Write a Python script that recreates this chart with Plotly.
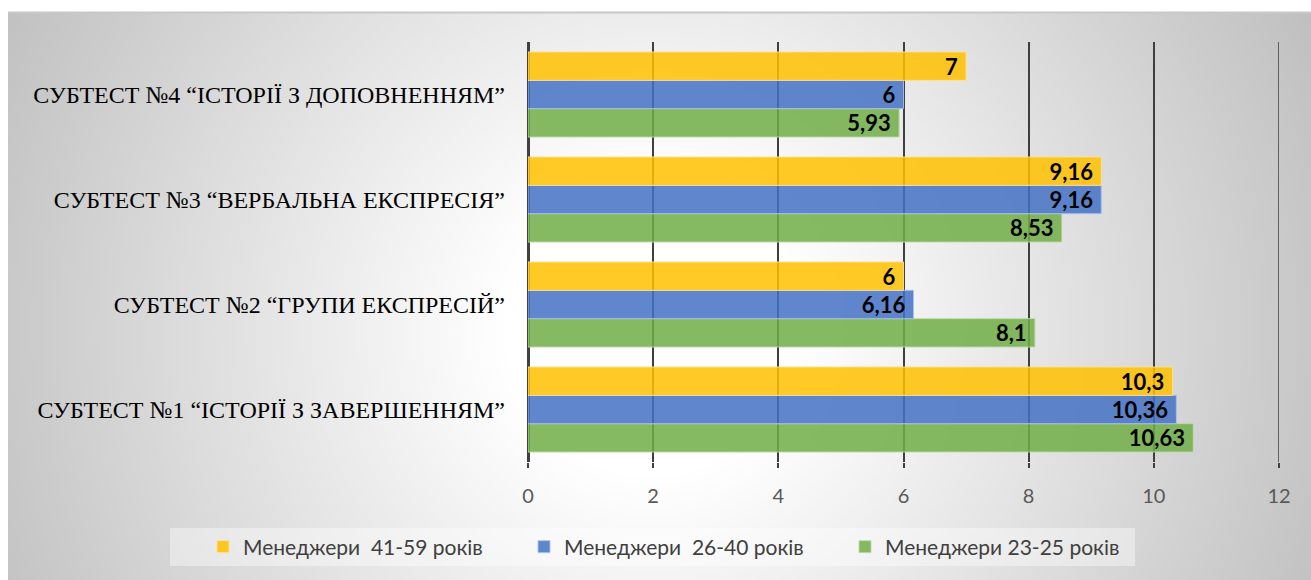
import base64, struct, zlib
import numpy as np
import plotly.graph_objects as go

categories = [
    "СУБТЕСТ №1 “ІСТОРІЇ З ЗАВЕРШЕННЯМ”",
    "СУБТЕСТ №2 “ГРУПИ ЕКСПРЕСІЙ”",
    "СУБТЕСТ №3 “ВЕРБАЛЬНА ЕКСПРЕСІЯ”",
    "СУБТЕСТ №4 “ІСТОРІЇ З ДОПОВНЕННЯМ”",
]
series_names = ["Менеджери 23-25 років", "Менеджери  26-40 років", "Менеджери  41-59 років"]
values_23_25 = [10.63, 8.1, 8.53, 5.93]
values_26_40 = [10.36, 6.16, 9.16, 6]
values_41_59 = [10.3, 6, 9.16, 7]
x_ticks = [0, 2, 4, 6, 8, 10, 12]

W, H = 1311, 580
ML, MR, MT, MB = 528, 32, 42, 118
PW, PH = W - ML - MR, H - MT - MB


def gradient_png():
    # radial gradient background (white centre, grey edges)
    x0, y0, x1, y1 = 8, 12, W, H
    sc = 4
    w, h = (x1 - x0) // sc, (y1 - y0) // sc
    xs = x0 + (np.arange(w) + 0.5) * sc
    ys = y0 + (np.arange(h) + 0.5) * sc
    X, Y = np.meshgrid(xs, ys)
    d = np.sqrt((X - 650) ** 2 + (Y - 330) ** 2)
    v = 255 - np.clip((d - 150) / 600, 0, 1.2) * 65
    v = np.clip(v, 0, 255).astype(np.uint8)
    raw = b"".join(b"\x00" + v[i].tobytes() for i in range(h))

    def chunk(t, data):
        c = struct.pack(">I", len(data)) + t + data
        return c + struct.pack(">I", zlib.crc32(t + data) & 0xFFFFFFFF)

    png = b"\x89PNG\r\n\x1a\n"
    png += chunk(b"IHDR", struct.pack(">IIBBBBB", w, h, 8, 0, 0, 0, 0))
    png += chunk(b"IDAT", zlib.compress(raw, 9))
    png += chunk(b"IEND", b"")
    return "data:image/png;base64," + base64.b64encode(png).decode()


def px_x(p):
    return (p - ML) / PW


def px_y(p):
    return (H - MB - p) / PH


def fmt(v):
    return ("%g" % v).replace(".", ",")


series = [
    (series_names[0], values_23_25, "rgba(112,173,71,0.85)", "rgba(190,220,170,0.9)"),
    (series_names[1], values_26_40, "rgba(68,114,196,0.85)", "rgba(170,195,235,0.9)"),
    (series_names[2], values_41_59, "rgba(255,192,0,0.85)", "rgba(255,225,150,0.9)"),
]

fig = go.Figure()
for name, vals, col, lcol in series:
    fig.add_trace(go.Bar(
        y=categories, x=vals, orientation="h", name=name,
        marker=dict(color=col, line=dict(color=lcol, width=1)),
        text=[fmt(v) for v in vals],
        texttemplate="%{text}\u00a0",
        textposition="inside", insidetextanchor="end",
        textangle=0, constraintext="none",
        textfont=dict(family="Lato, Carlito, sans-serif", size=22, color="black", weight="bold"),
        hoverinfo="skip",
    ))

fig.update_layout(
    width=W, height=H,
    margin=dict(l=ML, r=MR, t=MT, b=MB, pad=0),
    paper_bgcolor="white", plot_bgcolor="rgba(0,0,0,0)",
    barmode="group", bargap=0.19, bargroupgap=0,
    showlegend=True,
    legend=dict(
        orientation="h", traceorder="reversed",
        x=px_x(222 - 19), xanchor="left", y=px_y(547), yanchor="middle",
        bgcolor="rgba(0,0,0,0)",
        font=dict(family="Lato, Carlito, sans-serif", size=21, color="#404040"),
        entrywidth=276, entrywidthmode="pixels",
        itemwidth=30,
    ),
    images=[dict(
        source=gradient_png(), xref="paper", yref="paper",
        x=px_x(8), y=px_y(12), sizex=(W - 8) / PW, sizey=(H - 12) / PH,
        xanchor="left", yanchor="top", sizing="stretch", layer="below",
    )],
    shapes=[
        dict(type="line", xref="paper", yref="paper",
             x0=px_x(8), x1=px_x(W), y0=px_y(12.5), y1=px_y(12.5),
             line=dict(color="#c8c8c8", width=2), layer="below"),
        dict(type="rect", xref="paper", yref="paper",
             x0=px_x(170), x1=px_x(1135), y0=px_y(528), y1=px_y(566),
             fillcolor="rgba(255,255,255,0.4)", line=dict(width=0), layer="below"),
        dict(type="line", xref="x", yref="paper",
             x0=x_ticks[-1], x1=x_ticks[-1], y0=0, y1=1,
             line=dict(color="#3f3f3f", width=1.5), layer="below"),
    ],
)

fig.update_xaxes(
    range=[x_ticks[0], x_ticks[-1]], tickvals=x_ticks, ticktext=[str(t) for t in x_ticks],
    showgrid=True, gridcolor="#3f3f3f", gridwidth=1.5,
    zeroline=True, zerolinecolor="#404040", zerolinewidth=3,
    ticks="outside", ticklen=5, tickwidth=1.5, tickcolor="#404040",
    ticklabelstandoff=11,
    tickfont=dict(family="Lato, sans-serif", size=20, color="#595959"),
    showline=False, fixedrange=True,
)
fig.update_yaxes(
    categoryorder="array", categoryarray=categories,
    showgrid=False, zeroline=False, showline=False, ticks="",
    ticklabelstandoff=22,
    tickfont=dict(family="Liberation Serif, Times New Roman, serif", size=24, color="black"),
    fixedrange=True,
)

fig.write_html("out.html")
